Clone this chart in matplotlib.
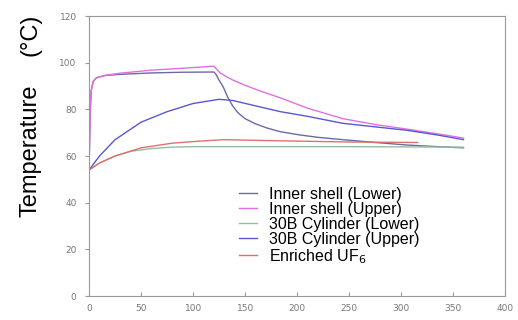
import matplotlib.pyplot as plt

# time (x) and temperature (y)
x_is_low = [0, 1, 2, 4, 7, 15, 30, 60, 90, 120, 122, 125, 129, 133, 138, 143, 150, 160, 171, 184, 203, 220, 244, 275, 306, 335, 360]
y_is_low = [55, 78, 88, 92, 93.5, 94.5, 95, 95.6, 95.9, 96, 95, 92.5, 89.6, 85.5, 81.5, 78.6, 76, 73.8, 72, 70.4, 69, 68, 67, 65.8, 64.7, 64, 63.5]

x_is_up = [0, 1, 2, 4, 7, 15, 30, 60, 90, 120, 122, 126, 132, 138, 150, 165, 184, 210, 244, 275, 306, 335, 360]
y_is_up = [55, 78, 88, 92, 93.5, 94.5, 95.5, 96.8, 97.6, 98.5, 97.5, 95.6, 94, 92.6, 90.3, 87.8, 84.9, 80.5, 76, 73.5, 71.5, 69.5, 67.7]

x_cyl_low = [0, 10, 25, 40, 60, 80, 100, 150, 200, 250, 300, 360]
y_cyl_low = [54, 57, 60, 62, 63.2, 63.8, 64, 64, 64, 64, 63.9, 63.8]

x_cyl_up = [0, 10, 25, 50, 75, 100, 125, 138, 160, 184, 210, 244, 275, 306, 335, 360]
y_cyl_up = [54, 60, 67, 74.5, 79, 82.5, 84.3, 83.8, 81.5, 79, 77, 74, 72.5, 71, 69, 67]

x_uf6 = [0, 10, 25, 50, 80, 110, 130, 184, 250, 316]
y_uf6 = [54, 57, 60, 63.5, 65.5, 66.5, 67, 66.5, 66, 65.8]

labels = ["Inner shell (Lower)", "Inner shell (Upper)", "30B Cylinder (Lower)",
          "30B Cylinder (Upper)", "Enriched UF$_6$"]

fig = plt.figure(figsize=(5.18, 3.2), dpi=100)
ax = fig.add_axes([0.172, 0.075, 0.803, 0.875])

ax.plot(x_is_low, y_is_low, color="#6a6aa8", lw=1.0, label=labels[0])
ax.plot(x_is_up, y_is_up, color="#e070e0", lw=1.0, label=labels[1])
ax.plot(x_cyl_low, y_cyl_low, color="#90c0a0", lw=1.0, label=labels[2])
ax.plot(x_cyl_up, y_cyl_up, color="#5858d0", lw=1.0, label=labels[3])
ax.plot(x_uf6, y_uf6, color="#e07070", lw=1.0, label=labels[4])

ax.set_xlim(0, 400)
ax.set_ylim(0, 120)
ax.set_xticks(range(0, 401, 50))
ax.set_yticks(range(0, 121, 20))
for s in ax.spines.values():
    s.set_color("#999999")
    s.set_linewidth(0.8)
ax.tick_params(axis="x", direction="in", length=3, color="#999999",
               labelsize=6.5, labelcolor="#777777", pad=6)
ax.tick_params(axis="y", direction="out", length=3, color="#999999",
               labelsize=6.5, labelcolor="#777777", pad=6)

leg = ax.legend(loc="upper left", bbox_to_anchor=(0.36, 0.39), frameon=False,
                prop={"family": "Liberation Sans", "size": 11.5},
                handlelength=1.15, handletextpad=0.75,
                labelspacing=0.0, borderpad=0.0, borderaxespad=0.0)

fig.text(0.058, 0.53, "Temperature", rotation=90, ha="center",
         va="center", fontsize=17, family="Liberation Sans")
fig.text(0.058, 0.89, "(\u00b0C)", rotation=90, ha="center",
         va="center", fontsize=17, family="Liberation Sans")

fig.savefig("out.png", dpi=100)
